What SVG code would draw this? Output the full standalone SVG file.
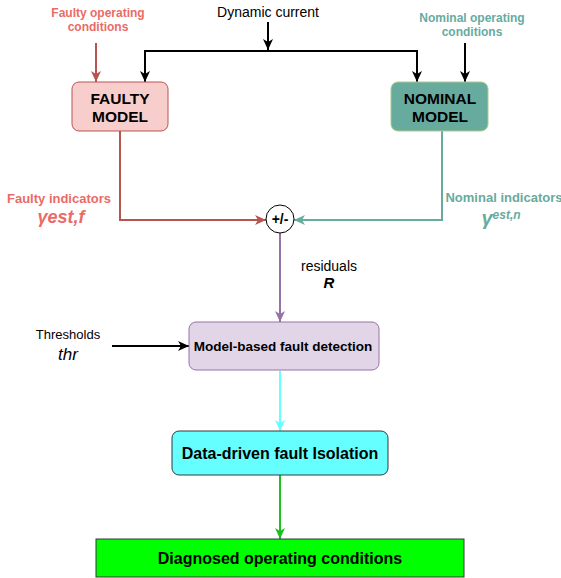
<svg xmlns="http://www.w3.org/2000/svg" width="561" height="578" viewBox="0 0 561 578">
<style>
text{font-family:"Liberation Sans",Arial,sans-serif;text-anchor:middle}
.b{font-weight:bold}
.c{fill:none;stroke-width:2}
</style>
<defs>
<marker id="ak" markerUnits="userSpaceOnUse" markerWidth="12" markerHeight="12" viewBox="0 0 12 12" refX="11" refY="6" orient="auto"><path d="M0,1 L11,6 L0,11 L3,6 z" fill="#000"/></marker>
<marker id="ar" markerUnits="userSpaceOnUse" markerWidth="12" markerHeight="12" viewBox="0 0 12 12" refX="11" refY="6" orient="auto"><path d="M0,1 L11,6 L0,11 L3,6 z" fill="#b85450"/></marker>
<marker id="at" markerUnits="userSpaceOnUse" markerWidth="12" markerHeight="12" viewBox="0 0 12 12" refX="11" refY="6" orient="auto"><path d="M0,1 L11,6 L0,11 L3,6 z" fill="#67ab9f"/></marker>
<marker id="ap" markerUnits="userSpaceOnUse" markerWidth="12" markerHeight="12" viewBox="0 0 12 12" refX="11" refY="6" orient="auto"><path d="M0,1 L11,6 L0,11 L3,6 z" fill="#9673a6"/></marker>
<marker id="ac" markerUnits="userSpaceOnUse" markerWidth="12" markerHeight="12" viewBox="0 0 12 12" refX="11" refY="6" orient="auto"><path d="M0,1 L11,6 L0,11 L3,6 z" fill="#66ffff"/></marker>
<marker id="ag" markerUnits="userSpaceOnUse" markerWidth="12" markerHeight="12" viewBox="0 0 12 12" refX="11" refY="6" orient="auto"><path d="M0,1 L11,6 L0,11 L3,6 z" fill="#1fbf1f"/></marker>
</defs>
<rect width="561" height="578" fill="#fff"/>
<g id="connectors">
<path class="c" stroke="#000" d="M268,22 V50" marker-end="url(#ak)"/>
<path class="c" stroke="#000" d="M145,82 V51 H417 V82" />
<path class="c" stroke="#000" d="M145,60 V82" marker-end="url(#ak)"/>
<path class="c" stroke="#000" d="M417,60 V82" marker-end="url(#ak)"/>
<path class="c" stroke="#b85450" d="M96,43 V82" marker-end="url(#ar)"/>
<path class="c" stroke="#000" d="M465,43 V82" marker-end="url(#ak)"/>
<path class="c" stroke="#b85450" d="M120,131 V220 H266" marker-end="url(#ar)"/>
<path class="c" stroke="#67ab9f" d="M442,131 V220 H294" marker-end="url(#at)"/>
<path class="c" stroke="#9673a6" d="M280,233 V322" marker-end="url(#ap)"/>
<path class="c" stroke="#000" d="M112,346 H189" marker-end="url(#ak)"/>
<path class="c" stroke="#66ffff" d="M280,371 V431" marker-end="url(#ac)"/>
<path class="c" stroke="#1fbf1f" d="M280,475 V539" marker-end="url(#ag)"/>
</g>
<g id="labels">
<text x="268" y="17" font-size="14">Dynamic current</text>
<text class="b" x="98" y="17" font-size="12" fill="#ea6b66">Faulty operating</text>
<text class="b" x="98" y="31" font-size="12" fill="#ea6b66">conditions</text>
<text class="b" x="472" y="22" font-size="12" fill="#67ab9f">Nominal operating</text>
<text class="b" x="472" y="36" font-size="12" fill="#67ab9f">conditions</text>
<text class="b" x="59" y="203" font-size="13" fill="#ea6b66">Faulty indicators</text>
<text class="b" x="61" y="223" font-size="18" font-style="italic" fill="#ea6b66">γest,f</text>
<text class="b" x="504" y="202" font-size="13" fill="#67ab9f">Nominal indicators</text>
<text class="b" x="501" y="225" font-style="italic" fill="#67ab9f"><tspan font-size="20">γ</tspan><tspan font-size="12" dy="-6">est,n</tspan></text>
<text x="329" y="271" font-size="14">residuals</text>
<text class="b" x="329" y="288" font-size="15" font-style="italic">R</text>
<text x="68" y="339" font-size="13">Thresholds</text>
<text x="68" y="360" font-size="17" font-style="italic">thr</text>
</g>
<g id="faulty-model">
<rect x="72" y="82" width="96" height="49" rx="7" fill="#f8cecc" stroke="#b85450"/>
<text class="b" x="120" y="104" font-size="15.5">FAULTY</text>
<text class="b" x="120" y="122" font-size="15.5">MODEL</text>
</g>
<g id="nominal-model">
<rect x="391" y="82" width="97" height="49" rx="7" fill="#67ab9f" stroke="#a9c98f"/>
<text class="b" x="440" y="104" font-size="15.5">NOMINAL</text>
<text class="b" x="440" y="122" font-size="15.5">MODEL</text>
</g>
<g id="sum">
<circle cx="280" cy="219" r="14" fill="#fff" stroke="#000"/>
<text class="b" x="280" y="224" font-size="14">+/-</text>
</g>
<g id="detection">
<rect x="189" y="322" width="190" height="48" rx="7" fill="#e1d5e7" stroke="#9673a6"/>
<text class="b" x="283" y="351" font-size="13.5">Model-based fault detection</text>
</g>
<g id="isolation">
<rect x="172" y="431" width="216" height="44" rx="7" fill="#66ffff" stroke="#36393d"/>
<text class="b" x="280" y="459" font-size="16">Data-driven fault Isolation</text>
</g>
<g id="diagnosed">
<rect x="96" y="539" width="368" height="38" fill="#00ff00" stroke="#36393d"/>
<text class="b" x="280" y="564" font-size="16">Diagnosed operating conditions</text>
</g>
</svg>
